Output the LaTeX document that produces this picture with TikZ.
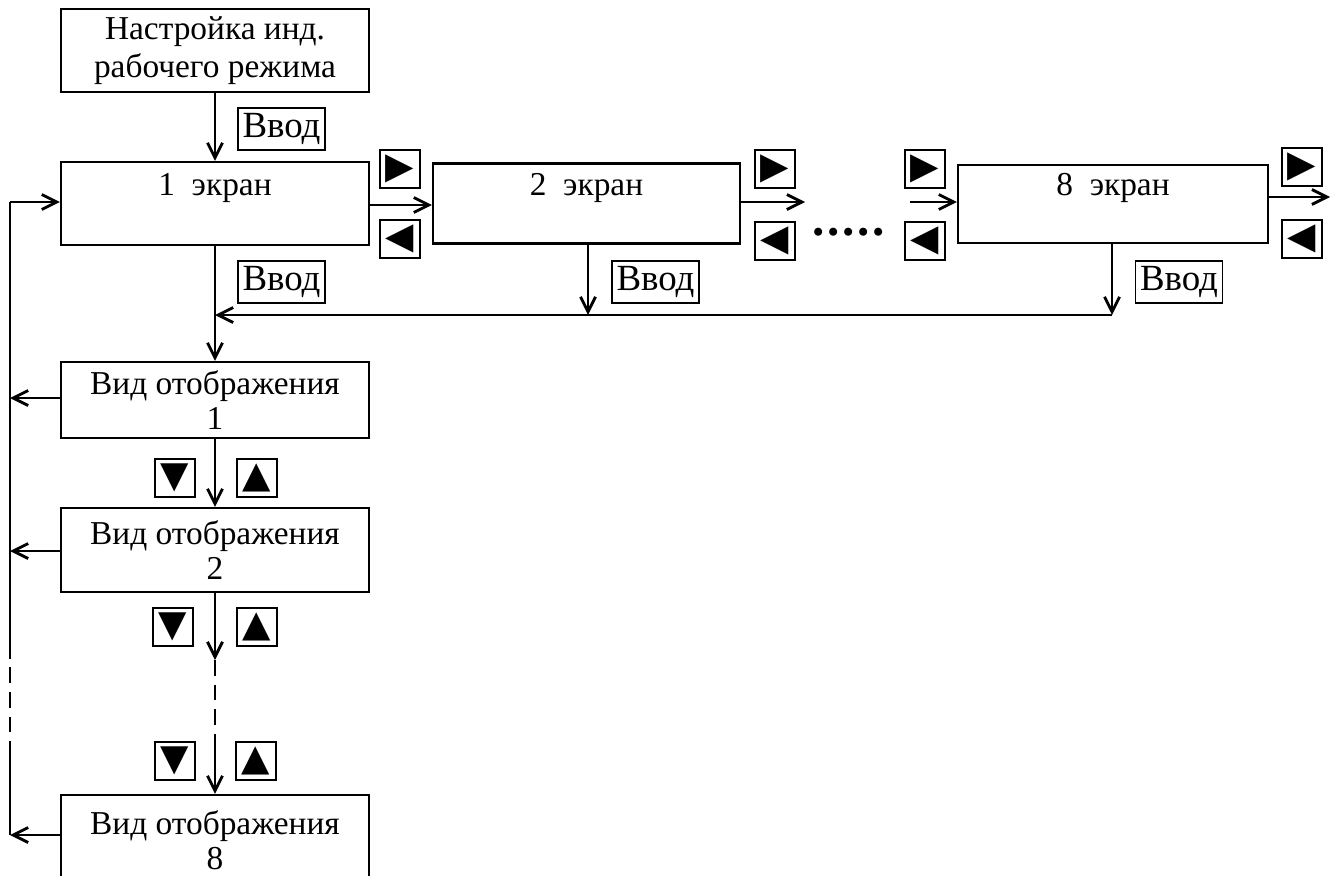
\documentclass[tikz,border=0pt]{standalone}
\usepackage{fontspec}
\setmainfont{Liberation Serif}
\newfontfamily\symf{DejaVu Sans}
\usetikzlibrary{arrows.meta}
\begin{document}
\begin{tikzpicture}[x=0.02cm,y=-0.02cm,
  box/.style={draw, line width=1.2pt, inner sep=0pt, align=center,
    font=\fontsize{19}{22}\selectfont},
  vbox/.style={box, minimum width=6.16cm, font=\fontsize{19}{20}\selectfont},
  key/.style={draw, line width=1pt, minimum width=0.8cm, minimum height=0.76cm,
    inner sep=0pt, font=\symf\fontsize{21}{21}\selectfont},
  enter/.style={draw, line width=1pt, minimum width=1.74cm, minimum height=0.84cm,
    inner sep=0pt, font=\fontsize{21}{22}\selectfont},
  arr/.style={line width=1.1pt, -{Straight Barb[length=3mm,width=3mm,line width=1.6pt]}},
  ln/.style={line width=1.1pt},
  dsh/.style={line width=1.1pt, dash pattern=on 9pt off 5pt}]
\useasboundingbox (0,0) rectangle (1334,875);
\clip (0,0) rectangle (1334,875);

% main boxes
\node[box, minimum width=6.16cm, minimum height=1.66cm] (top) at (215,50.5) {Настройка инд.\\рабочего режима};
\node[box, minimum width=6.16cm, minimum height=1.66cm] (s1) at (215,203.5) {1~~экран\\~};
\node[box, minimum width=6.14cm, minimum height=1.6cm] (s2) at (586.5,203.5) {2~~экран\\~};
\node[box, minimum width=6.2cm, minimum height=1.56cm] (s8) at (1113,204) {8~~экран\\~};
\node[vbox, minimum height=1.52cm] (v1) at (215,400) {Вид отображения\\1};
\node[vbox, minimum height=1.68cm] (v2) at (215,550) {Вид отображения\\2};
\node[vbox, minimum height=1.8cm] (v8) at (215,840) {Вид отображения\\8};

% key labels
\node[enter] (e1) at (281.5,129) {Ввод};
\node[enter] (e2) at (281.5,282) {Ввод};
\node[enter] (e3) at (655.5,282) {Ввод};
\node[enter] (e4) at (1179,282) {Ввод};
\node[key] (r1) at (400,169) {▶};
\node[key] (l1) at (400,239) {◀};
\node[key] (r2) at (775,169) {▶};
\node[key] (l2) at (775,241) {◀};
\node[key] (r3) at (925,169) {▶};
\node[key] (l3) at (925,241) {◀};
\node[key] (r4) at (1302,167) {▶};
\node[key] (l4) at (1302,239) {◀};
\node[key] (d1) at (175,478) {▼};
\node[key] (u1) at (257,478) {▲};
\node[key] (d2) at (173,627) {▼};
\node[key] (u2) at (257,627) {▲};
\node[key] (d3) at (175,761) {▼};
\node[key] (u3) at (256,761) {▲};

\node[font=\fontsize{28}{28}\selectfont\bfseries] (dots) at (849,232) {.\kern1.5pt.\kern1.5pt.\kern1.5pt.\kern1.5pt.};

% coordinates
\coordinate (j1) at (215,315);
\coordinate (j2) at (588,315);
\coordinate (j8) at (1112,315);
\coordinate (o2) at (805,202);
\coordinate (i8) at (910,202);
\coordinate (o8) at (1330,197);
\coordinate (a1) at (215,660);
\coordinate (a2) at (215,736);
\coordinate (L0) at (10,202);
\coordinate (L1) at (10,398);
\coordinate (L2) at (10,551);
\coordinate (L3) at (10,659);
\coordinate (L4) at (10,757);
\coordinate (L8) at (10,835);

% connectors
\draw[arr] (top.south) -- (s1.north);
\draw[arr] (s1.east |- 0,205) -- (s2.west |- 0,205);
\draw[arr] (s2.east |- o2) -- (o2);
\draw[arr] (i8) -- (s8.west |- i8);
\draw[arr] (s8.east |- o8) -- (o8);
\draw[arr] (s1.south) -- (v1.north);
\draw[arr] (j8) -- (j1);
\draw[arr] (s2.south -| j2) -- (j2);
\draw[arr] (s8.south -| j8) -- (j8);
\draw[arr] (v1.south) -- (v2.north);
\draw[arr] (v2.south) -- (a1);
\draw[dsh] (a1) -- (a2);
\draw[arr] (a2) -- (v8.north);
\draw[arr] (v1.west |- L1) -- (L1);
\draw[arr] (v2.west |- L2) -- (L2);
\draw[arr] (v8.west |- L8) -- (L8);
\draw[ln] (L8) -- (L4);
\draw[dsh] (L4) -- (L3);
\draw[ln] (L3) -- (L0);
\draw[arr] (L0) -- (s1.west |- L0);
\end{tikzpicture}
\end{document}
